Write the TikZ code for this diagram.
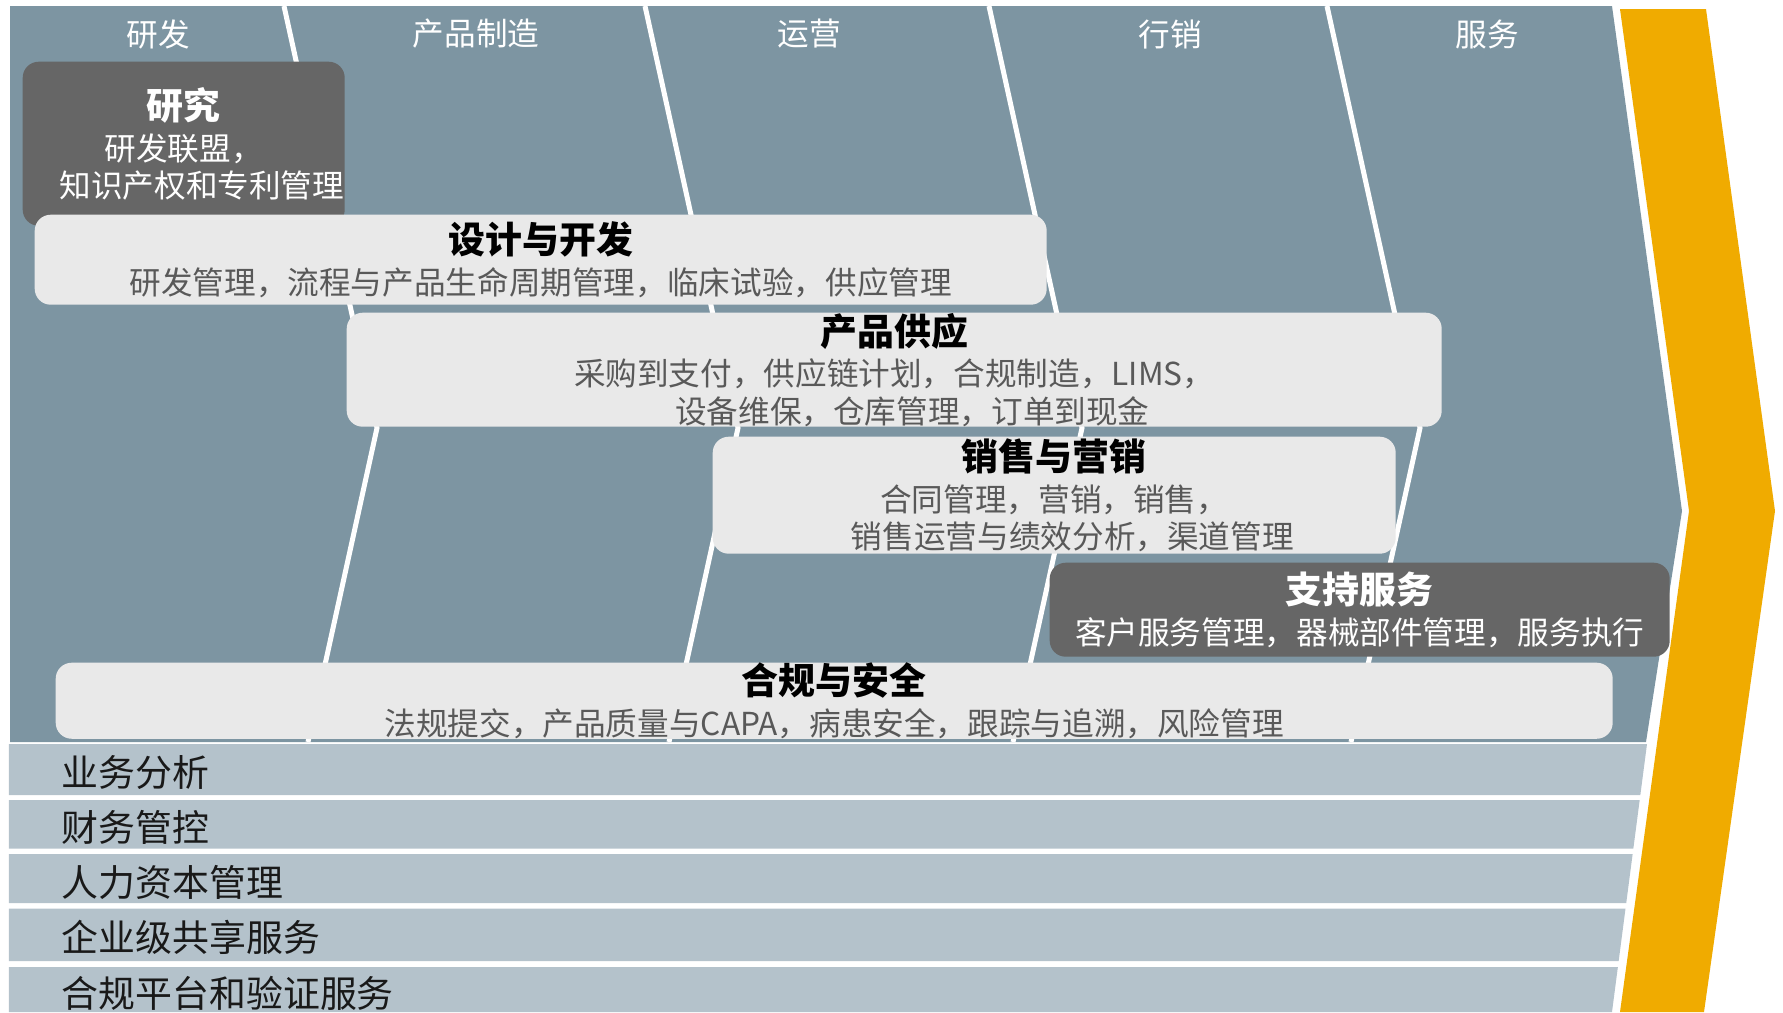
\documentclass[tikz,border=0pt]{standalone}
\usepackage{fontspec}
\setmainfont{Noto Sans CJK SC}
\usepackage{xcolor}
\usetikzlibrary{positioning}
\definecolor{chainblue}{HTML}{7D95A2}
\definecolor{rowblue}{HTML}{B4C2CB}
\definecolor{boxdark}{HTML}{666666}
\definecolor{boxlight}{HTML}{E9E9E9}
\definecolor{bodygray}{HTML}{595959}
\definecolor{sapgold}{HTML}{F0AB00}
\newcommand{\boxhead}[1]{{\fontsize{10.5pt}{12pt}\selectfont\bfseries #1}}

\begin{document}
\begin{tikzpicture}[
	lightbox/.style={fill=boxlight, rounded corners=0.16cm, inner sep=0pt,
		anchor=north west, align=center, text=bodygray,
		font=\fontsize{9pt}{10.6pt}\selectfont},
	darkbox/.style={lightbox, fill=boxdark, text=white},
	hdr/.style={text=white, font=\fontsize{9pt}{10.8pt}\selectfont},
	rowlab/.style={anchor=west, inner sep=0pt, text=black!90,
		font=\fontsize{10.5pt}{12pt}\selectfont},
	divider/.style={white, line width=0.05cm}
	]
	\useasboundingbox (0,0) rectangle (17.83,-10.12);
	
	%% Wertkette, Hintergrund
	\fill[chainblue] (0.10,-0.06) -- (16.12,-0.06) -- (16.82,-5.11)
	-- (16.46,-7.42) -- (0.10,-7.42) -- cycle;
	
	%% Pfeil rechts
	\fill[sapgold] (16.20,-0.09) -- (17.06,-0.09) -- (17.75,-5.11)
	-- (17.04,-10.12) -- (16.20,-10.12) -- (16.89,-5.11) -- cycle;
	
	%% Trennlinien der Spalten
	\foreach \xt/\xa/\xb in {2.84/3.77/3.08, 6.45/7.38/6.69,
		9.89/10.82/10.13, 13.27/14.20/13.51}
	\draw[divider] (\xt,-0.06) -- (\xa,-4.28) -- (\xb,-7.42);
	
	%% Spaltenkoepfe
	\node[hdr] (h1) at (1.58,-0.34) {研发};
	\node[hdr] (h2) at (4.76,-0.34) {产品制造};
	\node[hdr] (h3) at (8.09,-0.34) {运营};
	\node[hdr] (h4) at (11.70,-0.34) {行销};
	\node[hdr] (h5) at (14.87,-0.34) {服务};
	
	%% Bereiche
	\node[darkbox, minimum width=3.22cm, minimum height=1.64cm] (research)
	at (0.22,-0.61) {\boxhead{研究}\\[1pt] 研发联盟，\\ \hspace*{1.15em}知识产权和专利管理};
	
	\node[lightbox, minimum width=10.12cm, minimum height=0.90cm] (design)
	at (0.34,-2.14) {\boxhead{\color{black}设计与开发}\\[1pt]
		研发管理，流程与产品生命周期管理，临床试验，供应管理};
	
	\node[lightbox, minimum width=10.95cm, minimum height=1.14cm] (supply)
	at (3.46,-3.12) {\boxhead{\color{black}产品供应}\\[1pt]
		采购到支付，供应链计划，合规制造，LIMS，\\
		\hspace*{1.15em}设备维保，仓库管理，订单到现金};
	
	\node[lightbox, minimum width=6.83cm, minimum height=1.17cm] (sales)
	at (7.12,-4.36) {\boxhead{\color{black}销售与营销}\\[1pt]
		合同管理，营销，销售，\\
		\hspace*{1.15em}销售运营与绩效分析，渠道管理};
	
	\node[darkbox, minimum width=6.20cm, minimum height=0.94cm] (support)
	at (10.49,-5.62) {\boxhead{支持服务}\\[1pt]
		客户服务管理，器械部件管理，服务执行};
	
	\node[lightbox, minimum width=15.57cm, minimum height=0.75cm] (compliance)
	at (0.55,-6.62) {\boxhead{\color{black}合规与安全}\\[1pt]
		法规提交，产品质量与CAPA，病患安全，跟踪与追溯，风险管理};
	
	%% Querschnitt
	\foreach \top/\bot/\ly/\lab [count=\i] in {7.44/7.95/7.72/业务分析,
		8.00/8.485/8.27/财务管控, 8.54/9.03/8.82/人力资本管理,
		9.085/9.61/9.37/企业级共享服务, 9.67/10.12/9.93/合规平台和验证服务}{
		\pgfmathsetmacro{\xt}{16.47-0.1306*(\top-7.44)}
		\pgfmathsetmacro{\xb}{16.47-0.1306*(\bot-7.44)}
		\fill[rowblue] (0.09,-\top) -- (\xt,-\top) -- (\xb,-\bot)
		-- (0.09,-\bot) -- cycle;
		\node[rowlab] (row\i) at (0.61,-\ly) {\lab};
	}
\end{tikzpicture}
\end{document}
